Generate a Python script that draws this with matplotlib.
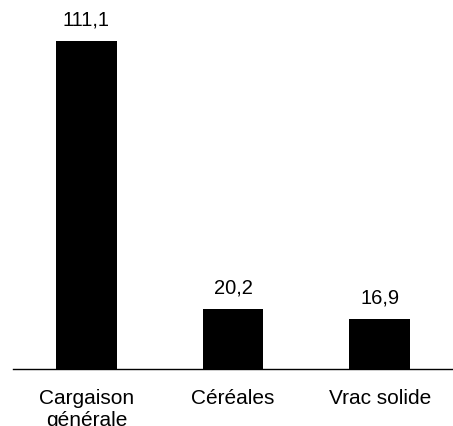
import matplotlib.pyplot as plt

categories = ["Cargaison\ngénérale", "Céréales", "Vrac solide"]
values = [111.1, 20.2, 16.9]

plt.rcParams['font.family'] = ['Liberation Sans', 'DejaVu Sans']

fig = plt.figure(figsize=(4.53, 4.27), dpi=100)
# axes spans from the baseline (y=370 px) up to the top of the figure
ax = fig.add_axes([13 / 453, (427 - 370) / 427, 440 / 453, 370 / 427])

x = range(len(values))
ax.bar(x, values, width=0.415, color='black')
ax.set_xlim(-0.5, 2.5)
ax.set_ylim(0, 125.3)

for xi, v in zip(x, values):
    ax.annotate(f"{v:.1f}".replace(".", ","), (xi, v), xytext=(0, 9),
                textcoords='offset points', ha='center', va='bottom', fontsize=14.5)

ax.set_xticks(list(x))
ax.set_xticklabels(categories, fontsize=15, linespacing=1.2)
ax.tick_params(axis='x', length=0, pad=14)
ax.set_yticks([])
for side in ['top', 'left', 'right']:
    ax.spines[side].set_visible(False)
ax.spines['bottom'].set_linewidth(1.0)

fig.savefig("out.png", dpi=100)
